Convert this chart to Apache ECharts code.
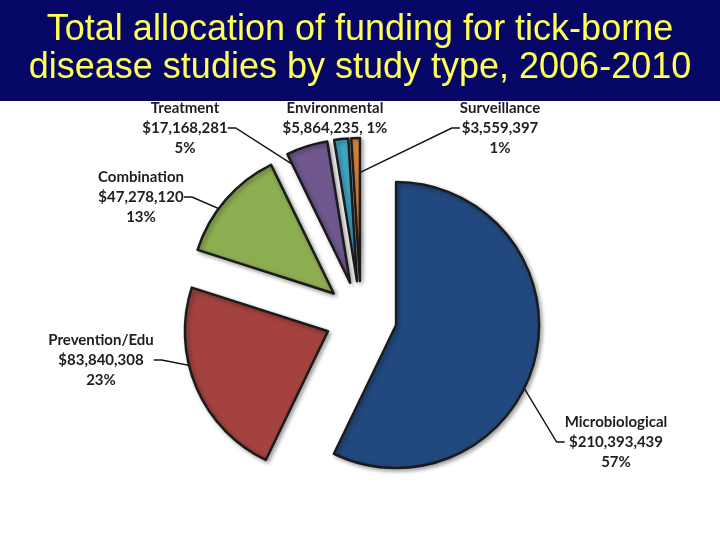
<!DOCTYPE html>
<html>
<head>
<meta charset="utf-8">
<script src="https://cdn.jsdelivr.net/npm/echarts@6/dist/echarts.min.js"></script>
<style>
  html, body { margin: 0; padding: 0; background: #fff; }
  #chartPie { width: 720px; height: 540px; }
</style>
</head>
<body>
<div id="chartPie"></div>
<script>
// funding by study type, 2006-2010
const categories = ['Microbiological', 'Prevention/Edu', 'Combination', 'Treatment', 'Environmental', 'Surveillance']
const funding = [210393439, 83840308, 47278120, 17168281, 5864235, 3559397]
const percents = ['57%', '23%', '13%', '5%', '1%', '1%']
const colors = ['#21497f', '#a3423e', '#8cad50', '#70588f', '#3fa6c2', '#ec8c3f']

// label centres (pixels)
const labelPos = [[616, 442], [101, 360], [141, 197], [185, 128], [335, 118], [500, 128]]

const money = v => '$' + v.toLocaleString('en-US')
const pieCenter = [361, 317]
const pieRadius = 143

const myChart = echarts.init(document.getElementById('chartPie'))
myChart.setOption({
  animation: false,
  graphic: [
    {
      type: 'rect',
      shape: { x: 0, y: 0, width: 720, height: 101 },
      style: { fill: '#060667' },
      z: 0
    },
    {
      type: 'text',
      x: 360,
      y: 11,
      style: {
        text: 'Total allocation of funding for tick-borne\ndisease studies by study type, 2006-2010',
        fill: '#ffff55',
        font: '36px "Liberation Sans", Arial, sans-serif',
        align: 'center',
        lineHeight: 38
      },
      z: 1
    }
  ],
  series: [
    // invisible copy of the pie that carries labels and leader lines
    {
      type: 'pie',
      z: 1,
      center: pieCenter,
      radius: pieRadius,
      startAngle: 90,
      clockwise: true,
      silent: true,
      avoidLabelOverlap: false,
      itemStyle: { color: 'rgba(0,0,0,0)', borderWidth: 0 },
      label: {
        show: true,
        color: '#1e1e1e',
        fontFamily: 'Lato, "Open Sans", sans-serif',
        fontWeight: 'bold',
        fontSize: 15,
        lineHeight: 20,
        align: 'center',
        formatter: p => {
          const i = p.dataIndex
          if (i === 4) return categories[i] + '\n' + money(funding[i]) + ', ' + percents[i]
          return categories[i] + '\n' + money(funding[i]) + '\n' + percents[i]
        }
      },
      labelLine: {
        show: true,
        length: 10,
        length2: 8,
        lineStyle: { color: '#111', width: 1.4 }
      },
      labelLayout: p => ({
        x: labelPos[p.dataIndex][0],
        y: labelPos[p.dataIndex][1],
        align: 'center',
        verticalAlign: 'middle'
      }),
      data: categories.map((name, i) => ({
        name: name,
        value: funding[i],
        labelLine: { show: i !== 4 }
      }))
    },
    // visible exploded pie
    {
      type: 'pie',
      z: 2,
      center: pieCenter,
      radius: pieRadius,
      startAngle: 90,
      clockwise: true,
      selectedMode: 'multiple',
      selectedOffset: 36,
      emphasis: { disabled: true },
      label: { show: false },
      labelLine: { show: false },
      itemStyle: {
        borderColor: '#1b1b1b',
        borderWidth: 2.5,
        shadowBlur: 4,
        shadowColor: 'rgba(0,0,0,0.35)',
        shadowOffsetX: 2,
        shadowOffsetY: 2
      },
      data: categories.map((name, i) => ({
        name: name,
        value: funding[i],
        selected: true,
        itemStyle: { color: colors[i] }
      }))
    }
  ]
})
window.addEventListener('resize', () => {
  myChart.resize()
})
</script>
</body>
</html>
